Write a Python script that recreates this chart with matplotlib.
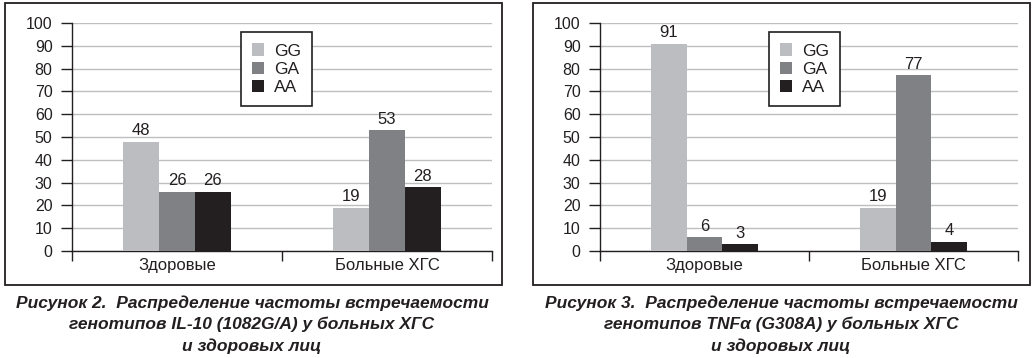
import matplotlib
matplotlib.use("Agg")
import matplotlib.pyplot as plt
from matplotlib.patches import Rectangle

# данные с рисунков
groups = ["Здоровые", "Больные ХГС"]
genotypes = ["GG", "GA", "AA"]
il10 = {"GG": [48, 19], "GA": [26, 53], "AA": [26, 28]}
tnfa = {"GG": [91, 19], "GA": [6, 77], "AA": [3, 4]}
yticks = list(range(0, 101, 10))

caption_left = ["Рисунок 2.  Распределение частоты встречаемости",
                "генотипов IL-10 (1082G/A) у больных ХГС",
                "и здоровых лиц"]
caption_right = ["Рисунок 3.  Распределение частоты встречаемости",
                 "генотипов TNFα (G308A) у больных ХГС",
                 "и здоровых лиц"]

colors = {"GG": "#bcbdc0", "GA": "#808184", "AA": "#231f20"}
plt.rcParams["font.family"] = ["Liberation Sans", "DejaVu Sans"]

W, H = 1034, 358
fig = plt.figure(figsize=(W / 100, H / 100), dpi=100)


def px_axes(x0, x1, ytop, ybot):
    return fig.add_axes([x0 / W, 1 - ybot / H, (x1 - x0) / W, (ybot - ytop) / H])


def draw_panel(ax, data, legend_x):
    bw = 0.171
    for i, g in enumerate(genotypes):
        xs = [k + (i - 1) * bw for k in range(len(groups))]
        bars = ax.bar(xs, data[g], width=bw, color=colors[g], label=g, zorder=3)
        for b, v in zip(bars, data[g]):
            ax.text(b.get_x() + bw / 2, v + 1.5, str(v), ha="center", va="bottom",
                    fontsize=12, color="#231f20")
    ax.set_xlim(-0.5, 1.5)
    ax.set_ylim(0, 100)
    ax.set_yticks(yticks)
    ax.grid(axis="y", color="#bdbec0", linewidth=1, zorder=0)
    ax.set_xticks([-0.5, 0.5, 1.5])
    ax.set_xticklabels([])
    ax.set_xticks([0, 1], minor=True)
    ax.set_xticklabels(groups, minor=True)
    ax.tick_params(axis="x", which="major", length=7, width=1, color="#231f20")
    ax.tick_params(axis="x", which="minor", length=0, pad=5, labelsize=12, labelcolor="#231f20")
    ax.tick_params(axis="y", length=8, width=1, color="#231f20", labelsize=11.5,
                   labelcolor="#231f20", pad=6)
    for s in ["top", "right"]:
        ax.spines[s].set_visible(False)
    for s in ["left", "bottom"]:
        ax.spines[s].set_color("#231f20")
        ax.spines[s].set_linewidth(1)
    leg = ax.legend(loc="upper left", bbox_to_anchor=(legend_x, 0.96), borderaxespad=0,
                    fancybox=False, edgecolor="#231f20", framealpha=1, fontsize=12.5,
                    handlelength=0.7, handleheight=0.7, handletextpad=0.55,
                    labelspacing=0.18, borderpad=0.65)
    leg.get_frame().set_linewidth(1.2)
    for t in leg.get_texts():
        t.set_color("#231f20")


ax1 = px_axes(72, 492, 23, 251)
draw_panel(ax1, il10, 0.402)
ax2 = px_axes(600, 1018, 23, 251)
draw_panel(ax2, tnfa, 0.404)

# рамки вокруг графиков
for x0, x1 in [(5, 502), (533, 1030)]:
    fig.add_artist(Rectangle((x0 / W, 1 - 285 / H), (x1 - x0) / W, 282 / H,
                             transform=fig.transFigure, fill=False,
                             edgecolor="#231f20", linewidth=1.3))

cap_font = dict(family=["Liberation Sans", "DejaVu Sans"],
                weight="bold", style="italic", fontsize=12.5, color="#231f20")
for cx, lines in [(252, caption_left), (781, caption_right)]:
    for j, line in enumerate(lines):
        fig.text(cx / W, 1 - (303 + j * 21.5) / H, line, ha="center", va="center", **cap_font)

fig.savefig("out.png", dpi=100)
